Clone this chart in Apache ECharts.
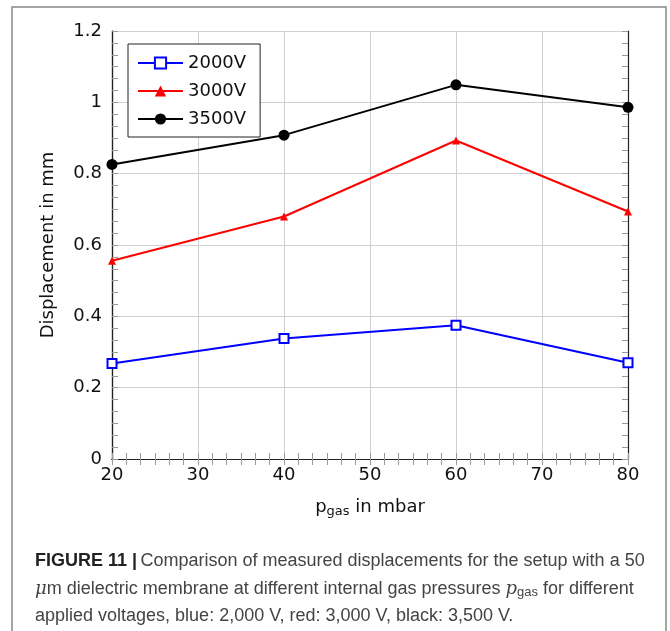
<!DOCTYPE html>
<html>
<head>
<meta charset="utf-8">
<script src="https://cdn.jsdelivr.net/npm/echarts@6/dist/echarts.min.js"></script>
<style>
  html, body { margin: 0; padding: 0; background: #fff; }
  #main { width: 670px; height: 631px; }
</style>
</head>
<body>
<div id="main"></div>
<script>
// values
var pressures = [20, 40, 60, 80];
var disp2000 = [0.268, 0.338, 0.375, 0.270];
var disp3000 = [0.556, 0.680, 0.893, 0.694];
var disp3500 = [0.826, 0.908, 1.049, 0.986];

function pairs(vals) {
  return pressures.map(function (p, i) { return [p, vals[i]]; });
}

var chart = echarts.init(document.getElementById('main'));
var font = 'DejaVu Sans';
var capFont = 'Liberation Sans';

// small inward ticks on all four sides, 6 per major step
// (drawn as the major ticks of extra label-less axes)
function tickAxis(min, max, step, position) {
  return {
    type: 'value', min: min, max: max, interval: step, position: position,
    axisLine: { show: true, lineStyle: { color: '#222', width: 1.2 } },
    axisTick: { show: true, inside: true, length: 6, lineStyle: { color: '#999', width: 1 } },
    splitLine: { show: false },
    axisLabel: { show: false }
  };
}

var option = {
  animation: false,
  backgroundColor: '#fff',
  grid: { left: 112, top: 31, width: 516, height: 428 },
  legend: {
    left: 128, top: 44,
    orient: 'vertical',
    backgroundColor: '#fff',
    borderColor: '#222', borderWidth: 1, borderRadius: 0,
    padding: [10, 14, 9, 9],
    itemWidth: 45, itemHeight: 14, itemGap: 10,
    textStyle: { fontFamily: font, fontSize: 18, color: '#111' },
    data: ['2000V', '3000V', '3500V']
  },
  xAxis: [
    {
      type: 'value', min: 20, max: 80, interval: 10,
      name: '{p|p}{sub|gas}{p| in mbar}',
      nameLocation: 'middle', nameGap: 38,
      nameTextStyle: {
        rich: {
          p: { fontFamily: font, fontSize: 18, color: '#111' },
          sub: { fontFamily: font, fontSize: 13, color: '#111', padding: [8, 0, 0, 0] }
        }
      },
      axisLine: { show: true, lineStyle: { color: '#222', width: 1.2 } },
      axisTick: { show: false },
      splitLine: { show: true, lineStyle: { color: '#d0d0d0', width: 1 } },
      axisLabel: { fontFamily: font, fontSize: 18, color: '#111', margin: 7 }
    },
    tickAxis(20, 80, 10 / 6, 'top'),
    tickAxis(20, 80, 10 / 6, 'bottom')
  ],
  yAxis: [
    {
      type: 'value', min: 0, max: 1.2, interval: 0.2,
      name: 'Displacement in mm',
      nameLocation: 'middle', nameGap: 55,
      nameTextStyle: { fontFamily: font, fontSize: 18, color: '#111' },
      axisLine: { show: true, lineStyle: { color: '#222', width: 1.2 } },
      axisTick: { show: false },
      splitLine: { show: true, lineStyle: { color: '#d0d0d0', width: 1 } },
      axisLabel: {
        fontFamily: font, fontSize: 18, color: '#111', margin: 10,
        formatter: function (v) { return String(+v.toFixed(1)); }
      }
    },
    tickAxis(0, 1.2, 0.2 / 6, 'right'),
    tickAxis(0, 1.2, 0.2 / 6, 'left')
  ],
  graphic: [
    {
      type: 'rect', silent: true, z: -1,
      shape: { x: 12, y: 7, width: 654, height: 660 },
      style: { fill: 'none', stroke: '#888', lineWidth: 1.5 }
    },
    {
      type: 'text', left: 35, top: 552,
      style: {
        text: '{b|FIGURE 11 |} {t|Comparison of measured displacements for the setup with a 50}',
        rich: {
          b: { fontFamily: capFont, fontSize: 18, fontWeight: 'bold', fill: '#222' },
          t: { fontFamily: capFont, fontSize: 18, fill: '#444' }
        }
      }
    },
    {
      type: 'text', left: 35, top: 580,
      style: {
        text: '{i|\u03bc}{t|m dielectric membrane at different internal gas pressures }{i|p}{s|gas}{t| for different}',
        rich: {
          t: { fontFamily: capFont, fontSize: 18, fill: '#444' },
          i: { fontFamily: 'DejaVu Serif', fontSize: 18, fontStyle: 'italic', fill: '#444' },
          s: { fontFamily: capFont, fontSize: 13, fill: '#444', padding: [6, 0, 0, 0] }
        }
      }
    },
    {
      type: 'text', left: 35, top: 607,
      style: {
        text: 'applied voltages, blue: 2,000 V, red: 3,000 V, black: 3,500 V.',
        fontFamily: capFont, fontSize: 18, fill: '#444'
      }
    }
  ],
  series: [
    {
      name: '2000V', type: 'line', data: pairs(disp2000),
      lineStyle: { color: '#0000ff', width: 2 },
      symbol: 'rect', symbolSize: 9,
      itemStyle: { color: '#fff', borderColor: '#0000ff', borderWidth: 2 }
    },
    {
      name: '3000V', type: 'line', data: pairs(disp3000),
      lineStyle: { color: '#ff0000', width: 2 },
      symbol: 'triangle', symbolSize: 8,
      itemStyle: { color: '#ff0000' }
    },
    {
      name: '3500V', type: 'line', data: pairs(disp3500),
      lineStyle: { color: '#000', width: 2 },
      symbol: 'circle', symbolSize: 11,
      itemStyle: { color: '#000' }
    }
  ]
};

chart.setOption(option);
</script>
</body>
</html>
